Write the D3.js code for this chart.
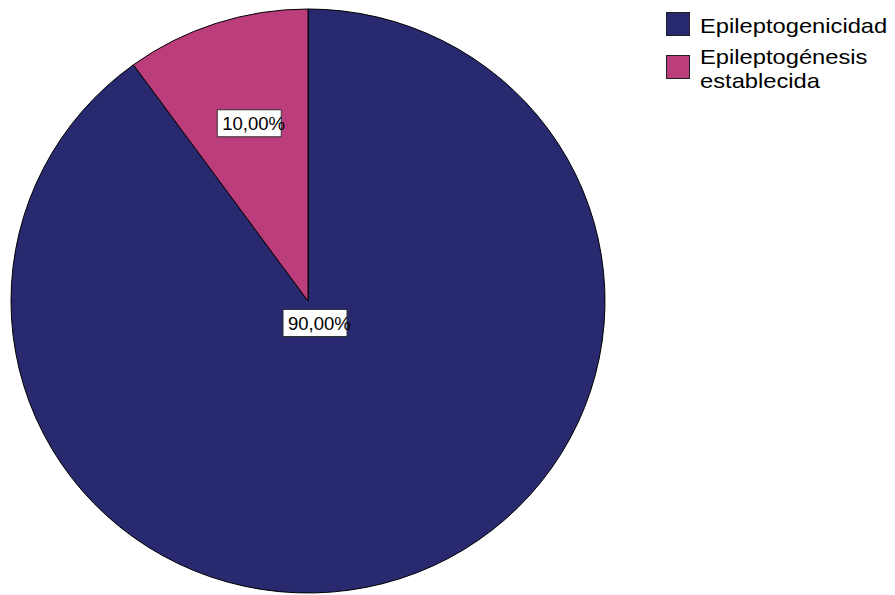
<!DOCTYPE html>
<html>
<head>
<meta charset="utf-8">
<script src="https://cdn.jsdelivr.net/npm/d3@7"></script>
<style>
  html, body { margin: 0; padding: 0; background: #fff; }
  svg { display: block; }
  text { font-family: "Liberation Sans", Arial, sans-serif; }
</style>
</head>
<body>
<svg id="chart" width="895" height="595"></svg>
<script>
const categories = ["Epileptogenicidad", "Epileptogénesis establecida"];
const values = [90, 10];
const valueLabels = ["90,00%", "10,00%"];
const legendLines = [["Epileptogenicidad"], ["Epileptogénesis", "establecida"]];
const colors = ["#29296f", "#bb3d7b"];

const svg = d3.select("#chart");
const cx = 308, cy = 301, rx = 297, ry = 292;

const pie = d3.pie().sort(null).value(d => d)
  .startAngle(0).endAngle(2 * Math.PI);
const arcs = pie(values);
const arc = d3.arc().innerRadius(0).outerRadius(rx);

const g = svg.append("g")
  .attr("transform", `translate(${cx},${cy}) scale(1,${ry / rx})`);

g.selectAll("path").data(arcs).enter().append("path")
  .attr("d", arc)
  .attr("fill", (d, i) => colors[i])
  .attr("stroke", "#000")
  .attr("stroke-width", 1)
  .attr("vector-effect", "non-scaling-stroke");

// Labels
const labelArc = d3.arc().innerRadius(0).outerRadius(rx * 0.64 * 2);
function labelPos(i) {
  if (i === 0) return [cx + 7, cy + 22];
  const c = labelArc.centroid(arcs[i]);
  return [cx + c[0], cy + c[1] * ry / rx];
}
const lbl = svg.selectAll("g.lbl").data(arcs).enter().append("g")
  .attr("class", "lbl")
  .attr("transform", (d, i) => { const p = labelPos(i); return `translate(${p[0]},${p[1]})`; });
lbl.append("rect")
  .attr("x", -32).attr("y", -13.5)
  .attr("width", 64).attr("height", 27)
  .attr("fill", "#fff").attr("stroke", "#333").attr("stroke-width", 1);
lbl.append("text")
  .attr("x", -27).attr("y", 7)
  .attr("font-size", "18.5px")
  .attr("fill", "#000")
  .text((d, i) => valueLabels[i]);

// Legend
const legend = svg.append("g");
const legendY = [12, 55];
categories.forEach((c, i) => {
  legend.append("rect")
    .attr("x", 666.5).attr("y", legendY[i] + 0.5)
    .attr("width", 23).attr("height", 23)
    .attr("fill", colors[i]).attr("stroke", "#222").attr("stroke-width", 1);
  const t = legend.append("text")
    .attr("transform", `translate(700,0) scale(1.13,1)`)
    .attr("font-size", "21px").attr("fill", "#000");
  legendLines[i].forEach((line, j) => {
    t.append("tspan").attr("x", 0)
      .attr("y", (i === 0 ? 33 : 64) + j * 24)
      .text(line);
  });
});
</script>
</body>
</html>
